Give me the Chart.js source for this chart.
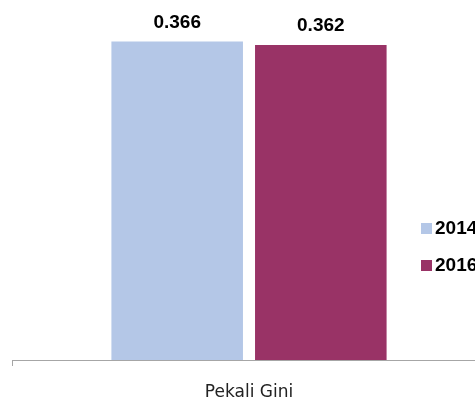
<!DOCTYPE html>
<html>
<head>
<meta charset="utf-8">
<script src="https://cdn.jsdelivr.net/npm/chart.js@4/dist/chart.umd.min.js"></script>
<style>
  html, body { margin: 0; padding: 0; background: #fff; overflow: hidden; width: 475px; height: 398px; }
  #wrap { position: relative; width: 486px; height: 398px; }
  #legend { position: absolute; left: 421px; top: 219px; font: bold 19px "Liberation Sans", Arial, sans-serif; color: #000; }
  #legend .item { display: flex; align-items: center; height: 18px; margin-bottom: 19px; white-space: nowrap; }
  #legend .box { width: 11px; height: 11px; margin-right: 3px; }
</style>
</head>
<body>
<div id="wrap">
  <canvas id="chart-gini" width="486" height="398"></canvas>
  <div id="legend"></div>
</div>
<script>
// Data
const categories = ['Pekali Gini'];
const seriesNames = ['2014', '2016'];
const values2014 = [0.366];
const values2016 = [0.362];
const seriesColors = ['#B4C7E7', '#993366'];

// Etiquetas de valor encima de cada barra
const valueLabels = {
    id: 'valueLabels',
    afterDatasetsDraw(chart) {
        const ctx = chart.ctx;
        ctx.save();
        ctx.font = 'bold 19px "Liberation Sans", Arial, sans-serif';
        ctx.fillStyle = '#000';
        ctx.textAlign = 'center';
        ctx.textBaseline = 'alphabetic';
        chart.data.datasets.forEach((ds, i) => {
            chart.getDatasetMeta(i).data.forEach((bar, j) => {
                ctx.fillText(ds.data[j].toFixed(3), bar.x, bar.y - 14);
            });
        });
        ctx.restore();
    }
};

const ctxGini = document.getElementById('chart-gini').getContext('2d');
new Chart(ctxGini, {
    type: 'bar',
    data: {
        labels: categories,
        datasets: [
            { label: seriesNames[0], data: values2014, backgroundColor: seriesColors[0] },
            { label: seriesNames[1], data: values2016, backgroundColor: seriesColors[1] }
        ]
    },
    options: {
        responsive: false,
        animation: false,
        barPercentage: 0.916,
        categoryPercentage: 0.606,
        layout: { padding: { left: 12, top: 12, right: 0, bottom: 0 } },
        plugins: {
            legend: { display: false },
            tooltip: { enabled: false }
        },
        scales: {
            x: {
                grid: { display: true, drawOnChartArea: false, color: '#A6A6A6', tickLength: 6, offset: true },
                border: { display: true, color: '#A6A6A6', width: 1 },
                ticks: { color: '#222', font: { family: 'DejaVu Sans', size: 17 }, padding: 16 },
                afterFit(scale) { scale.height = 38; }
            },
            y: {
                display: false,
                min: 0,
                max: 0.4
            }
        }
    },
    plugins: [valueLabels]
});

// Leyenda
const legend = document.getElementById('legend');
seriesNames.forEach((name, i) => {
    const item = document.createElement('div');
    item.className = 'item';
    item.innerHTML = '<span class="box" style="background:' + seriesColors[i] + '"></span><span>' + name + '</span>';
    legend.appendChild(item);
});
</script>
</body>
</html>
